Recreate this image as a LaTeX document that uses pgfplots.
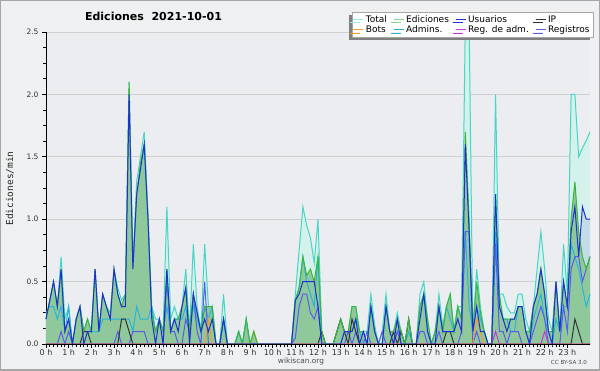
\documentclass[border=0pt]{standalone}
\usepackage{pgfplots}
\pgfplotsset{compat=1.18}
\usepackage{pgfplotstable}
\usepackage{fontspec}
\setmainfont{DejaVu Sans}
\newfontfamily\monofont{DejaVu Sans Mono}
\usetikzlibrary{shadows}
\definecolor{bgout}{HTML}{EFF0F1}
\definecolor{bgplot}{HTML}{ECEDF0}
\definecolor{totline}{HTML}{45D6C6}
\definecolor{totfill}{HTML}{D5F1EB}
\definecolor{edline}{HTML}{3DB53D}
\definecolor{edfill}{HTML}{8FC99B}
\definecolor{usline}{HTML}{2030D0}
\definecolor{usfill}{HTML}{C3DCE8}
\definecolor{ipline}{HTML}{333333}
\definecolor{botline}{HTML}{F0A020}
\definecolor{admline}{HTML}{28B4DC}
\definecolor{radmline}{HTML}{C838D8}
\definecolor{regline}{HTML}{5A5AF0}

\pgfplotstableread{
i T E U A P R B M
0 0.2 0.2 0.2 0.25 0 0 0 0
1 0.35 0.35 0.35 0.3 0 0 0 0
2 0.5 0.5 0.5 0.3 0 0 0 0
3 0.3 0.3 0.3 0.2 0 0 0 0
4 0.7 0.6 0.6 0.3 0 0.1 0 0
5 0.2 0.1 0.1 0.1 0 0 0 0
6 0.3 0.2 0.2 0.3 0 0.1 0 0
7 0 0 0 0 0 0 0 0
8 0.2 0.2 0.2 0.2 0 0 0 0
9 0.3 0.3 0.3 0.3 0 0 0 0
10 0.1 0.1 0 0.1 0.1 0 0 0
11 0.2 0.2 0.1 0.1 0.1 0 0 0
12 0.1 0.1 0.1 0.1 0 0 0 0
13 0.6 0.6 0.6 0.1 0 0 0 0
14 0.1 0.1 0.1 0.1 0 0 0 0
15 0.4 0.4 0.4 0.2 0 0 0 0
16 0.3 0.3 0.3 0.2 0 0 0 0
17 0.25 0.2 0.2 0.2 0 0 0 0
18 0.6 0.6 0.6 0.2 0 0 0 0
19 0.45 0.4 0.4 0.2 0 0.1 0 0
20 0.35 0.3 0.3 0.2 0.2 0 0 0
21 0.4 0.4 0.3 0.2 0.2 0 0 0
22 2.1 2.1 2.0 0.2 0.1 0 0 0
23 0.65 0.6 0.6 0.1 0 0.1 0 0
24 1.3 1.2 1.2 0.3 0 0.1 0 0
25 1.5 1.45 1.4 0.2 0 0.1 0 0
26 1.7 1.6 1.6 0.2 0 0.1 0 0
27 1.05 1.0 1.0 0.2 0 0 0 0
28 0.3 0.25 0.2 0.3 0 0 0 0
29 0.2 0.1 0 0.1 0 0 0 0
30 0.2 0.2 0.2 0.2 0 0 0 0
31 0.1 0.1 0 0.1 0 0 0 0
32 1.1 0.6 0.6 0.3 0 0.5 0 0
33 0.2 0.1 0.1 0.1 0 0.1 0 0
34 0.3 0.2 0.2 0.2 0 0.1 0 0
35 0.2 0.2 0.1 0.2 0 0 0 0
36 0.3 0.3 0.3 0.2 0 0 0 0
37 0.6 0.45 0.45 0.3 0 0.2 0 0
38 0.1 0.1 0 0.1 0 0.1 0 0
39 0.8 0.4 0.4 0.3 0 0.4 0 0
40 0.3 0.25 0.25 0.2 0 0.1 0 0
41 0.1 0.1 0.1 0.1 0 0 0 0
42 0.8 0.3 0.2 0.3 0 0.5 0 0
43 0.3 0.3 0.1 0.2 0 0 0.2 0
44 0.3 0.3 0.2 0.3 0 0 0 0
45 0 0 0 0 0 0 0 0
46 0 0 0 0 0 0 0 0
47 0.4 0.2 0.2 0.2 0 0.2 0 0
48 0 0 0 0 0 0 0 0
49 0 0 0 0 0 0 0 0
50 0 0 0 0 0 0 0 0
51 0.1 0.1 0 0.1 0 0 0 0
52 0 0 0 0 0 0 0 0
53 0.2 0.2 0 0.2 0 0 0 0
54 0 0 0 0 0 0 0 0
55 0.1 0.1 0 0 0 0 0.1 0
56 0 0 0 0 0 0 0 0
57 0 0 0 0 0 0 0 0
58 0 0 0 0 0 0 0 0
59 0 0 0 0 0 0 0 0
60 0 0 0 0 0 0 0 0
61 0 0 0 0 0 0 0 0
62 0 0 0 0 0 0 0 0
63 0 0 0 0 0 0 0 0
64 0 0 0 0 0 0 0 0
65 0 0 0 0 0 0 0 0
66 0.4 0.35 0.35 0.35 0 0.05 0 0
67 0.75 0.45 0.4 0.45 0 0.3 0 0
68 1.1 0.7 0.5 0.7 0 0.4 0 0
69 0.95 0.55 0.5 0.5 0 0.4 0 0
70 0.85 0.6 0.5 0.4 0 0.25 0 0
71 0.65 0.5 0.5 0.3 0 0.2 0 0
72 1.0 0.7 0.3 0.7 0 0.3 0 0
73 0.1 0.1 0 0 0.1 0 0 0
74 0 0 0 0 0 0 0 0
75 0 0 0 0 0 0 0 0
76 0 0 0 0 0 0 0 0
77 0.1 0.1 0 0 0.1 0 0 0
78 0.2 0.2 0 0 0.2 0 0 0
79 0.1 0.1 0.1 0.1 0.1 0 0 0
80 0.1 0.1 0.1 0.1 0 0.1 0 0
81 0.3 0.3 0.1 0.1 0.2 0 0 0
82 0.3 0.3 0.2 0.2 0.1 0.1 0 0
83 0.1 0.1 0 0.1 0 0 0 0
84 0.1 0.1 0.1 0 0 0 0 0
85 0.1 0 0 0 0 0.1 0 0
86 0.4 0.3 0.3 0.3 0 0 0 0
87 0.15 0.1 0.1 0.1 0 0 0 0
88 0 0 0 0 0 0 0 0
89 0.1 0 0 0 0 0.1 0 0
90 0.4 0.3 0.3 0.3 0 0 0 0
91 0.1 0.1 0.1 0.1 0 0 0 0
92 0.1 0.1 0 0 0.1 0 0 0
93 0.25 0.2 0.2 0.1 0 0.1 0 0
94 0.1 0.1 0 0.1 0.1 0 0 0
95 0 0 0 0 0 0 0 0
96 0.2 0.2 0 0.1 0.2 0 0 0
97 0 0 0 0 0 0 0 0
98 0 0 0 0 0 0 0 0
99 0.4 0.3 0.2 0.3 0 0.1 0 0
100 0.5 0.4 0.4 0.4 0 0.1 0 0
101 0.2 0.2 0.1 0.1 0 0 0 0
102 0 0 0 0 0 0 0 0
103 0.1 0.1 0 0.1 0 0 0 0
104 0.4 0.3 0.3 0.3 0 0.1 0 0
105 0.15 0.1 0.1 0.1 0 0 0 0
106 0.3 0.3 0.1 0.3 0.1 0 0 0
107 0.4 0.4 0.1 0.2 0.1 0 0 0
108 0.1 0.1 0.1 0.1 0 0 0 0
109 0.3 0.3 0.2 0.3 0 0 0 0
110 0.3 0.2 0.1 0.2 0 0.1 0 0
111 2.6 1.7 1.6 0.9 0 0.9 0 0
112 2.6 1.0 0.9 0.3 0 0.9 0 0
113 0.1 0.1 0.1 0.1 0 0 0 0
114 0.6 0.5 0.3 0.3 0 0.1 0.2 0
115 0.3 0.25 0.1 0.2 0 0 0.1 0
116 0.1 0.1 0.1 0.1 0 0 0 0
117 0 0 0 0 0 0 0 0
118 0 0 0 0 0 0 0 0
119 2.0 1.2 1.2 0.9 0 0.8 0 0.1
120 0.4 0.4 0.3 0.3 0 0.1 0 0
121 0.4 0.2 0.2 0.2 0 0.1 0 0
122 0.3 0.2 0.1 0.2 0 0 0 0
123 0.25 0.2 0.2 0.1 0 0.1 0 0
124 0.25 0.2 0.2 0.1 0 0.1 0 0
125 0.4 0.3 0.3 0.3 0 0.1 0 0
126 0.4 0.3 0.3 0.3 0 0 0 0
127 0.2 0.1 0.1 0.1 0 0 0 0
128 0.1 0.1 0 0 0 0 0 0
129 0.3 0.3 0.3 0.2 0 0.1 0 0
130 0.6 0.4 0.4 0.3 0 0.2 0 0
131 0.9 0.6 0.6 0.4 0 0.3 0 0
132 0.6 0.4 0.4 0.2 0 0.2 0 0.1
133 0.2 0.1 0.1 0.1 0 0 0 0
134 0.1 0.1 0 0 0 0 0 0
135 0.5 0.5 0.5 0.2 0 0 0 0
136 0.1 0.1 0.1 0.1 0 0 0 0
137 0.8 0.5 0.5 0.3 0 0.3 0 0
138 0.4 0.3 0.3 0.3 0 0.1 0 0
139 2.0 1.0 0.9 0.8 0 0.6 0 0
140 2.0 1.3 1.1 0.7 0.2 0.7 0 0
141 1.5 0.9 0.7 0.6 0.1 0.7 0 0
142 1.57 0.7 1.1 0.45 0 0.5 0 0
143 1.63 0.6 1.0 0.3 0 0.6 0 0
144 1.7 0.7 1.0 0.4 0 0.7 0 0
}\data

\begin{document}
\begin{tikzpicture}[x=1pt,y=1pt]
\fill[bgout] (0,0) rectangle (600,370);
\begin{axis}[
  at={(46pt,26pt)}, anchor=south west, scale only axis,
  width=544pt, height=312pt,
  xmin=0, xmax=144, ymin=0, ymax=2.5,
  axis lines=left, axis line style={-, black, line width=0.8pt},
  clip=false,
  axis background/.style={fill=bgplot},
  xtick={0,6,...,138},
  xticklabels={0 h,1 h,2 h,3 h,4 h,5 h,6 h,7 h,8 h,9 h,10 h,11 h,12 h,13 h,14 h,15 h,16 h,17 h,18 h,19 h,20 h,21 h,22 h,23 h},
  minor x tick num=5,
  ytick={0,0.5,1,1.5,2,2.5},
  yticklabels={0.0,0.5,1.0,1.5,2.0,2.5},
  minor y tick num=3,
  tick align=outside,
  major tick length=4pt, minor tick length=3pt,
  tick style={black, line width=0.8pt},
  ymajorgrids, grid style={black!18, line width=0.8pt},
  xticklabel style={font=\fontsize{8}{9}\selectfont, text=black!80, yshift=2pt},
  yticklabel style={font=\fontsize{7.5}{9}\selectfont, text=black!80},
  legend columns=4,
  legend cell align=left,
  legend image code/.code={\draw[#1, line width=1pt] (0pt,0pt) -- (10pt,0pt);},
  legend style={at={(1.0055,1.064)}, anchor=north east, draw=black!35, fill=white,
    font=\fontsize{9}{10}\selectfont, inner sep=1.2pt, row sep=-2pt,
    /tikz/every even column/.append style={column sep=4.2pt},
    drop shadow={shadow xshift=-3pt, shadow yshift=-3pt, fill=black!50, opacity=1}},
]
\addlegendimage{totline!55}\addlegendentry{Total}
\addlegendimage{edline!60}\addlegendentry{Ediciones}
\addlegendimage{usline}\addlegendentry{Usuarios}
\addlegendimage{ipline}\addlegendentry{IP}
\addlegendimage{botline}\addlegendentry{Bots}
\addlegendimage{admline}\addlegendentry{Admins.}
\addlegendimage{radmline}\addlegendentry{Reg. de adm.}
\addlegendimage{regline}\addlegendentry{Registros}

\addplot[forget plot, draw=none, fill=totfill] table[x=i,y=T] {\data} \closedcycle;
\addplot[forget plot, draw=none, fill=usfill] table[x=i,y=U] {\data} \closedcycle;
\addplot[forget plot, draw=none, fill=edfill] table[x=i,y=E] {\data} \closedcycle;
\addplot[forget plot, totline, line width=1pt] table[x=i,y=T] {\data};
\addplot[forget plot, admline, line width=1pt] table[x=i,y=A] {\data};
\addplot[forget plot, regline, line width=1pt] table[x=i,y=R] {\data};
\addplot[forget plot, ipline, line width=1pt] table[x=i,y=P] {\data};
\addplot[forget plot, botline, line width=1pt] table[x=i,y=B] {\data};
\addplot[forget plot, radmline, line width=1pt] table[x=i,y=M] {\data};
\addplot[forget plot, edline, line width=1pt] table[x=i,y=E] {\data};
\addplot[forget plot, usline, line width=1pt] table[x=i,y=U] {\data};
\draw[black, line width=0.8pt] (axis cs:0,0) -- (axis cs:144,0);
\end{axis}
\node[font=\fontsize{11}{13}\selectfont\bfseries] at (153.5,353.5) {Ediciones\ \ 2021-10-01};
\node[rotate=90, font=\monofont\fontsize{9.5}{11}\selectfont, text=black!85] at (10,181.5) {Ediciones/min};
\node[font=\fontsize{7.4}{9}\selectfont, text=black!70] at (301,8.3) {wikiscan.org};
\node[font=\fontsize{5.6}{7}\selectfont, text=black!70] at (569,7.3) {CC BY-SA 3.0};
\draw[black!35, line width=2pt] (0,0) rectangle (600,370);
\pgfresetboundingbox
\useasboundingbox (0,0) rectangle (600,370);
\end{tikzpicture}
\end{document}
